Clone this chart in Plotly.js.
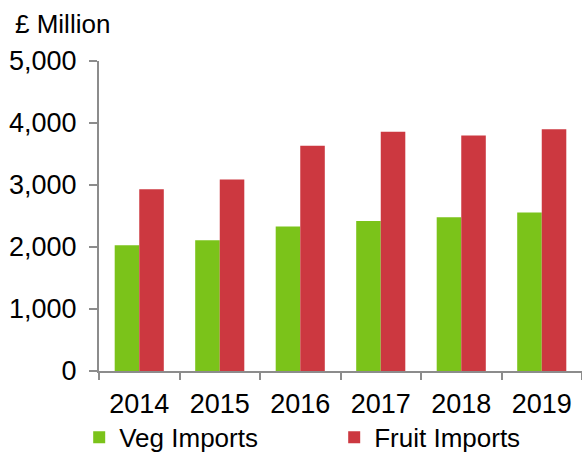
<!DOCTYPE html>
<html>
<head>
<meta charset="utf-8">
<script src="https://cdn.plot.ly/plotly-3.0.1.min.js"></script>
<style>html,body{margin:0;padding:0;background:#fff}#chart{width:582px;height:453px}</style>
</head>
<body>
<div id="chart"></div>
<script>
const years = ["2014", "2015", "2016", "2017", "2018", "2019"];
const vegImports = [2030, 2110, 2330, 2420, 2480, 2555];
const fruitImports = [2930, 3090, 3635, 3860, 3800, 3900];
const seriesNames = ["Veg Imports", "Fruit Imports"];
const unitLabel = "£ Million";

const FONT = "Liberation Sans, Arial, sans-serif";
const traces = [
  {type: "bar", name: seriesNames[0], x: years, y: vegImports,
   marker: {color: "#7BC31A", line: {width: 0}}, hoverinfo: "x+y"},
  {type: "bar", name: seriesNames[1], x: years, y: fruitImports,
   marker: {color: "#CC3840", line: {width: 0}}, hoverinfo: "x+y"}
];
const layout = {
  width: 582, height: 453,
  margin: {l: 99, r: 0, t: 61, b: 82, pad: 0, autoexpand: false},
  paper_bgcolor: "#fff", plot_bgcolor: "#fff",
  font: {family: FONT, size: 27, color: "#000"},
  barmode: "group", bargap: 0.39, bargroupgap: 0,
  title: {text: unitLabel, x: 15/582, xanchor: "left", xref: "container",
          y: 1 - 24/453, yanchor: "middle", yref: "container",
          font: {family: FONT, size: 26, color: "#000"}},
  xaxis: {type: "category", showgrid: false, zeroline: false, automargin: false,
          showline: true, linecolor: "#8c8c8c", linewidth: 2,
          ticks: "outside", tickson: "boundaries", ticklen: 7, tickwidth: 2, tickcolor: "#8c8c8c",
          tickfont: {family: FONT, size: 27, color: "#000"}, ticklabelstandoff: 8},
  yaxis: {range: [0, 5000], dtick: 1000, tickformat: ",d", showgrid: false, zeroline: false, automargin: false,
          showline: true, linecolor: "#8c8c8c", linewidth: 2,
          ticks: "outside", ticklen: 8, tickwidth: 2, tickcolor: "#8c8c8c",
          tickfont: {family: FONT, size: 27, color: "#000"}, ticklabelstandoff: 7},
  legend: {orientation: "h", x: -0.041, xanchor: "left", y: -0.2138, yanchor: "middle",
           font: {family: FONT, size: 26, color: "#000"}, entrywidth: 210, entrywidthmode: "pixels",
           bgcolor: "rgba(0,0,0,0)", borderwidth: 0, traceorder: "normal"},
  showlegend: true
};
Plotly.newPlot("chart", traces, layout, {displayModeBar: false, staticPlot: true});
</script>
</body>
</html>
